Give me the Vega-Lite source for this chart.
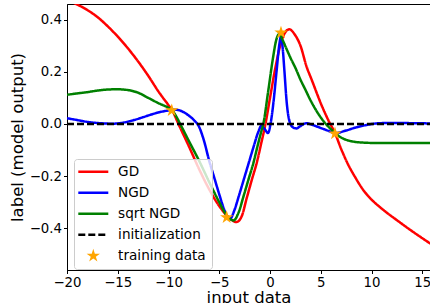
{
  "$schema": "https://vega.github.io/schema/vega-lite/v6.json",
  "width": 363,
  "height": 266,
  "autosize": {"type": "none"},
  "padding": {"left": 67, "top": 4, "right": 0, "bottom": 33},
  "background": "white",
  "config": {
    "font": "DejaVu Sans",
    "view": {"stroke": "black", "strokeWidth": 1},
    "axis": {
      "grid": false,
      "domainColor": "black",
      "domainWidth": 1,
      "tickColor": "black",
      "tickWidth": 1,
      "tickSize": 3.5,
      "labelColor": "black",
      "titleColor": "black",
      "labelFont": "DejaVu Sans",
      "titleFont": "DejaVu Sans",
      "labelFontSize": 13.3,
      "titleFontSize": 16.5,
      "titleFontWeight": "normal",
      "labelPadding": 2,
      "labelFlush": false
    }
  },
  "layer": [
    {
      "data": {
        "values": [
          {"series": "GD", "x": -20, "y": 0.475},
          {"series": "GD", "x": -19, "y": 0.458},
          {"series": "GD", "x": -18, "y": 0.437},
          {"series": "GD", "x": -17, "y": 0.41},
          {"series": "GD", "x": -16, "y": 0.375},
          {"series": "GD", "x": -15, "y": 0.335},
          {"series": "GD", "x": -14, "y": 0.29},
          {"series": "GD", "x": -13, "y": 0.24},
          {"series": "GD", "x": -12, "y": 0.185},
          {"series": "GD", "x": -11, "y": 0.125},
          {"series": "GD", "x": -10, "y": 0.072},
          {"series": "GD", "x": -9.66, "y": 0.054},
          {"series": "GD", "x": -9, "y": -0.002},
          {"series": "GD", "x": -8, "y": -0.085},
          {"series": "GD", "x": -7, "y": -0.172},
          {"series": "GD", "x": -6, "y": -0.25},
          {"series": "GD", "x": -5, "y": -0.315},
          {"series": "GD", "x": -4.1, "y": -0.357},
          {"series": "GD", "x": -3.3, "y": -0.376},
          {"series": "GD", "x": -2.8, "y": -0.355},
          {"series": "GD", "x": -2.3, "y": -0.285},
          {"series": "GD", "x": -1.8, "y": -0.215},
          {"series": "GD", "x": -1.3, "y": -0.148},
          {"series": "GD", "x": -0.9, "y": -0.08},
          {"series": "GD", "x": -0.45, "y": 0},
          {"series": "GD", "x": 0, "y": 0.1},
          {"series": "GD", "x": 0.5, "y": 0.21},
          {"series": "GD", "x": 1.0, "y": 0.3},
          {"series": "GD", "x": 1.4, "y": 0.345},
          {"series": "GD", "x": 1.9, "y": 0.363},
          {"series": "GD", "x": 2.4, "y": 0.345},
          {"series": "GD", "x": 3.0, "y": 0.3},
          {"series": "GD", "x": 3.6, "y": 0.22},
          {"series": "GD", "x": 4.1, "y": 0.17},
          {"series": "GD", "x": 5.1, "y": 0.07},
          {"series": "GD", "x": 5.8, "y": 0.01},
          {"series": "GD", "x": 6.4, "y": -0.035},
          {"series": "GD", "x": 7.0, "y": -0.095},
          {"series": "GD", "x": 7.6, "y": -0.148},
          {"series": "GD", "x": 8.4, "y": -0.205},
          {"series": "GD", "x": 9.2, "y": -0.254},
          {"series": "GD", "x": 10, "y": -0.29},
          {"series": "GD", "x": 10.8, "y": -0.318},
          {"series": "GD", "x": 11.6, "y": -0.343},
          {"series": "GD", "x": 12.5, "y": -0.369},
          {"series": "GD", "x": 14.1, "y": -0.414},
          {"series": "GD", "x": 15.8, "y": -0.459},

          {"series": "NGD", "x": -20, "y": 0.022},
          {"series": "NGD", "x": -19, "y": 0.015},
          {"series": "NGD", "x": -18, "y": 0.008},
          {"series": "NGD", "x": -16.75, "y": 0.003},
          {"series": "NGD", "x": -15.5, "y": 0.001},
          {"series": "NGD", "x": -14.5, "y": 0.005},
          {"series": "NGD", "x": -13.4, "y": 0.015},
          {"series": "NGD", "x": -12.5, "y": 0.026},
          {"series": "NGD", "x": -11.8, "y": 0.035},
          {"series": "NGD", "x": -10.9, "y": 0.045},
          {"series": "NGD", "x": -10.15, "y": 0.051},
          {"series": "NGD", "x": -9.5, "y": 0.055},
          {"series": "NGD", "x": -9.0, "y": 0.053},
          {"series": "NGD", "x": -8.5, "y": 0.045},
          {"series": "NGD", "x": -8.0, "y": 0.032},
          {"series": "NGD", "x": -7.5, "y": 0.015},
          {"series": "NGD", "x": -7.0, "y": -0.01},
          {"series": "NGD", "x": -6.5, "y": -0.065},
          {"series": "NGD", "x": -6.0, "y": -0.14},
          {"series": "NGD", "x": -5.5, "y": -0.205},
          {"series": "NGD", "x": -5.0, "y": -0.27},
          {"series": "NGD", "x": -4.5, "y": -0.33},
          {"series": "NGD", "x": -4.0, "y": -0.366},
          {"series": "NGD", "x": -3.5, "y": -0.33},
          {"series": "NGD", "x": -3.1, "y": -0.28},
          {"series": "NGD", "x": -2.6, "y": -0.215},
          {"series": "NGD", "x": -2.1, "y": -0.15},
          {"series": "NGD", "x": -1.6, "y": -0.085},
          {"series": "NGD", "x": -1.15, "y": -0.03},
          {"series": "NGD", "x": -0.85, "y": -0.007},
          {"series": "NGD", "x": -0.55, "y": -0.018},
          {"series": "NGD", "x": -0.2, "y": -0.035},
          {"series": "NGD", "x": 0.05, "y": 0.0},
          {"series": "NGD", "x": 0.33, "y": 0.08},
          {"series": "NGD", "x": 0.66, "y": 0.208},
          {"series": "NGD", "x": 0.9, "y": 0.3},
          {"series": "NGD", "x": 1.08, "y": 0.335},
          {"series": "NGD", "x": 1.25, "y": 0.29},
          {"series": "NGD", "x": 1.41, "y": 0.208},
          {"series": "NGD", "x": 1.65, "y": 0.08},
          {"series": "NGD", "x": 1.97, "y": 0.004},
          {"series": "NGD", "x": 2.3, "y": -0.014},
          {"series": "NGD", "x": 2.6, "y": -0.017},
          {"series": "NGD", "x": 3.0, "y": -0.008},
          {"series": "NGD", "x": 3.6, "y": 0.003},
          {"series": "NGD", "x": 4.2, "y": -0.004},
          {"series": "NGD", "x": 5.1, "y": -0.017},
          {"series": "NGD", "x": 5.8, "y": -0.027},
          {"series": "NGD", "x": 6.4, "y": -0.035},
          {"series": "NGD", "x": 7.5, "y": -0.025},
          {"series": "NGD", "x": 8.5, "y": -0.013},
          {"series": "NGD", "x": 9.5, "y": -0.004},
          {"series": "NGD", "x": 10.8, "y": 0.003},
          {"series": "NGD", "x": 12.5, "y": 0.004},
          {"series": "NGD", "x": 14, "y": 0.003},
          {"series": "NGD", "x": 15.8, "y": 0.002},

          {"series": "sqrt NGD", "x": -20, "y": 0.112},
          {"series": "sqrt NGD", "x": -19, "y": 0.117},
          {"series": "sqrt NGD", "x": -18, "y": 0.122},
          {"series": "sqrt NGD", "x": -17, "y": 0.128},
          {"series": "sqrt NGD", "x": -16, "y": 0.132},
          {"series": "sqrt NGD", "x": -15, "y": 0.133},
          {"series": "sqrt NGD", "x": -14, "y": 0.13},
          {"series": "sqrt NGD", "x": -13, "y": 0.12},
          {"series": "sqrt NGD", "x": -12, "y": 0.1},
          {"series": "sqrt NGD", "x": -11, "y": 0.08},
          {"series": "sqrt NGD", "x": -10, "y": 0.062},
          {"series": "sqrt NGD", "x": -9.66, "y": 0.054},
          {"series": "sqrt NGD", "x": -9.3, "y": 0.033},
          {"series": "sqrt NGD", "x": -8.85, "y": 0},
          {"series": "sqrt NGD", "x": -8, "y": -0.065},
          {"series": "sqrt NGD", "x": -7, "y": -0.14},
          {"series": "sqrt NGD", "x": -6, "y": -0.222},
          {"series": "sqrt NGD", "x": -5, "y": -0.3},
          {"series": "sqrt NGD", "x": -4.4, "y": -0.343},
          {"series": "sqrt NGD", "x": -4.0, "y": -0.362},
          {"series": "sqrt NGD", "x": -3.6, "y": -0.37},
          {"series": "sqrt NGD", "x": -3.1, "y": -0.34},
          {"series": "sqrt NGD", "x": -2.63, "y": -0.28},
          {"series": "sqrt NGD", "x": -2.1, "y": -0.21},
          {"series": "sqrt NGD", "x": -1.64, "y": -0.15},
          {"series": "sqrt NGD", "x": -1.2, "y": -0.08},
          {"series": "sqrt NGD", "x": -0.82, "y": -0.023},
          {"series": "sqrt NGD", "x": -0.66, "y": 0},
          {"series": "sqrt NGD", "x": -0.2, "y": 0.12},
          {"series": "sqrt NGD", "x": 0.3, "y": 0.255},
          {"series": "sqrt NGD", "x": 0.6, "y": 0.32},
          {"series": "sqrt NGD", "x": 0.9, "y": 0.345},
          {"series": "sqrt NGD", "x": 1.2, "y": 0.325},
          {"series": "sqrt NGD", "x": 1.6, "y": 0.29},
          {"series": "sqrt NGD", "x": 2.0, "y": 0.255},
          {"series": "sqrt NGD", "x": 2.5, "y": 0.215},
          {"series": "sqrt NGD", "x": 3.0, "y": 0.17},
          {"series": "sqrt NGD", "x": 3.5, "y": 0.13},
          {"series": "sqrt NGD", "x": 4.0, "y": 0.09},
          {"series": "sqrt NGD", "x": 4.5, "y": 0.055},
          {"series": "sqrt NGD", "x": 5.0, "y": 0.025},
          {"series": "sqrt NGD", "x": 5.5, "y": 0.0},
          {"series": "sqrt NGD", "x": 6.0, "y": -0.02},
          {"series": "sqrt NGD", "x": 6.4, "y": -0.035},
          {"series": "sqrt NGD", "x": 7.0, "y": -0.052},
          {"series": "sqrt NGD", "x": 8, "y": -0.066},
          {"series": "sqrt NGD", "x": 9, "y": -0.071},
          {"series": "sqrt NGD", "x": 10.5, "y": -0.073},
          {"series": "sqrt NGD", "x": 15.8, "y": -0.073},

          {"series": "initialization", "x": -20, "y": 0},
          {"series": "initialization", "x": 15.8, "y": 0}
        ]
      },
      "mark": {"type": "line", "strokeWidth": 2.5, "interpolate": "monotone", "clip": true},
      "encoding": {
        "x": {
          "field": "x", "type": "quantitative",
          "scale": {"domain": [-20, 15.76], "nice": false, "zero": false},
          "axis": {"values": [-20, -15, -10, -5, 0, 5, 10, 15], "title": "input data", "titlePadding": 1}
        },
        "y": {
          "field": "y", "type": "quantitative",
          "scale": {"domain": [-0.56, 0.46], "nice": false, "zero": false},
          "axis": {"values": [-0.4, -0.2, 0, 0.2, 0.4], "format": ".1f", "title": "label (model output)", "titlePadding": 4}
        },
        "color": {
          "field": "series", "type": "nominal",
          "scale": {
            "domain": ["GD", "NGD", "sqrt NGD", "initialization", "training data"],
            "range": ["#ff0000", "#0000ff", "#008000", "#000000", "#ffa500"]
          },
          "legend": {
            "title": null,
            "orient": "none",
            "legendX": 7,
            "legendY": 155,
            "fillColor": "rgba(255,255,255,0.8)",
            "strokeColor": "#cccccc",
            "cornerRadius": 3,
            "padding": 6,
            "rowPadding": 6,
            "labelFontSize": 13.6,
            "labelFont": "DejaVu Sans",
            "labelColor": "black",
            "labelLimit": 300,
            "symbolOffset": 6.5,
            "labelOffset": 18,
            "symbolSize": 100,
            "symbolType": "stroke",
            "encode": {
              "symbols": {
                "update": {
                  "stroke": {"scale": "color", "field": "value"},
                  "fill": {"signal": "datum.value === 'training data' ? '#ffa500' : 'transparent'"},
                  "strokeWidth": {"signal": "datum.value === 'training data' ? 0 : 2.5"},
                  "strokeDash": {"signal": "datum.value === 'initialization' ? [7, 3] : [1, 0]"},
                  "shape": {"signal": "datum.value === 'training data' ? 'M0,-1.4L0.314,-0.433L1.331,-0.433L0.508,0.165L0.823,1.133L0,0.535L-0.823,1.133L-0.508,0.165L-1.331,-0.433L-0.314,-0.433Z' : 'M-3,0H3'"},
                  "size": {"value": 100},
                  "opacity": {"value": 1}
                }
              }
            }
          }
        },
        "strokeDash": {
          "field": "series", "type": "nominal",
          "scale": {
            "domain": ["GD", "NGD", "sqrt NGD", "initialization"],
            "range": [[1, 0], [1, 0], [1, 0], [7, 3]]
          },
          "legend": null
        }
      }
    },
    {
      "data": {
        "values": [
          {"series": "training data", "x": -9.68, "y": 0.052},
          {"series": "training data", "x": -4.27, "y": -0.358},
          {"series": "training data", "x": 1.08, "y": 0.35},
          {"series": "training data", "x": 6.4, "y": -0.037}
        ]
      },
      "mark": {
        "type": "point",
        "filled": true,
        "opacity": 1,
        "size": 100,
        "shape": "M0,-1.4L0.314,-0.433L1.331,-0.433L0.508,0.165L0.823,1.133L0,0.535L-0.823,1.133L-0.508,0.165L-1.331,-0.433L-0.314,-0.433Z"
      },
      "encoding": {
        "x": {"field": "x", "type": "quantitative"},
        "y": {"field": "y", "type": "quantitative"},
        "color": {"field": "series", "type": "nominal"}
      }
    }
  ]
}
